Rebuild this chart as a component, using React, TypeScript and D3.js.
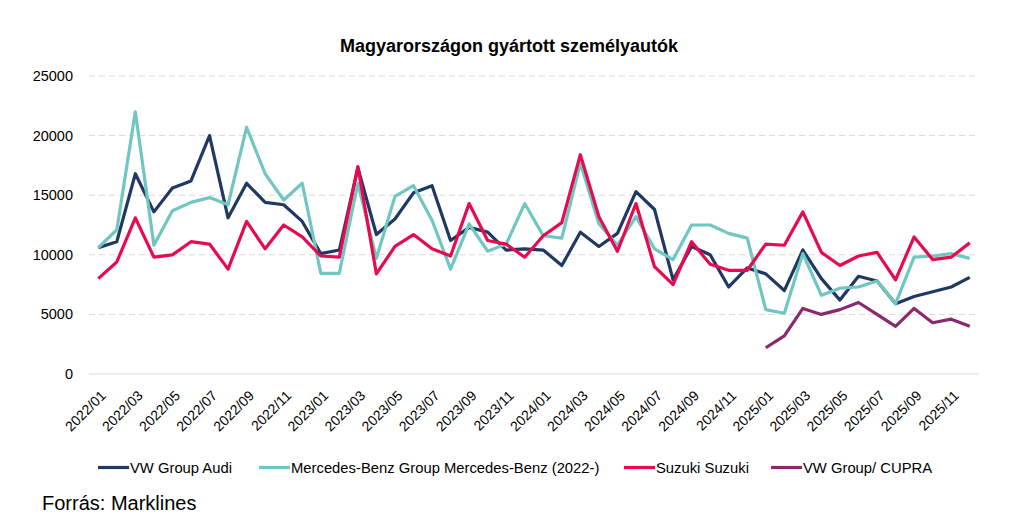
import React from "react";
import * as d3 from "d3";

const months: string[] = [];
for (let y = 2022; y <= 2025; y++) for (let m = 1; m <= 12; m++) months.push(`${y}/${String(m).padStart(2, "0")}`);

const audi = [10600, 11100, 16800, 13600, 15600, 16200, 20000, 13100, 16000, 14400, 14200, 12800,
  10100, 10400, 17300, 11700, 13000, 15200, 15800, 11200, 12300, 11900, 10400, 10500,
  10400, 9100, 11900, 10700, 11800, 15300, 13800, 7900, 10700, 10000, 7300, 8900,
  8400, 7000, 10400, 8000, 6200, 8200, 7800, 5900, 6500, 6900, 7300, 8100];
const mercedes = [10600, 12100, 22000, 10800, 13700, 14400, 14800, 14200, 20700, 16800, 14600, 16000,
  8450, 8450, 16000, 9700, 14900, 15800, 12900, 8800, 12600, 10300, 10900, 14300,
  11600, 11400, 17700, 12600, 10800, 13200, 10500, 9600, 12500, 12500, 11800, 11400,
  5400, 5100, 10100, 6600, 7200, 7300, 7800, 5900, 9800, 9900, 10100, 9700];
const suzuki = [8000, 9400, 13100, 9800, 10000, 11100, 10900, 8800, 12800, 10500, 12500, 11500,
  9900, 9800, 17400, 8400, 10700, 11700, 10500, 9900, 14300, 11200, 10900, 9800,
  11600, 12700, 18400, 13200, 10300, 14300, 9000, 7500, 11100, 9200, 8700, 8700,
  10900, 10800, 13600, 10200, 9100, 9900, 10200, 7900, 11500, 9600, 9800, 11000];
const cupra: (number | null)[] = [...Array(36).fill(null),
  2200, 3200, 5500, 5000, 5400, 6000, 5000, 4000, 5500, 4300, 4600, 4000];

const seriesNames = ["VW Group Audi", "Mercedes-Benz Group Mercedes-Benz (2022-)", "Suzuki Suzuki", "VW Group/ CUPRA"];
const seriesColors = ["#1f3864", "#70c6c0", "#e8094f", "#8a2a6e"];
const seriesData = [audi, mercedes, suzuki, cupra];
const yTicks = [0, 5000, 10000, 15000, 20000, 25000];
const legendX = [98, 259, 624, 771];

const FONT = "'Liberation Sans', Arial, sans-serif";

export default function App() {
  const x = d3.scaleBand<string>().domain(months).range([89, 979]);
  const y = d3.scaleLinear().domain([0, 25000]).range([374, 76]);
  const cx = (m: string) => (x(m) as number) + x.bandwidth() / 2;
  const line = d3.line<number | null>()
    .defined((d) => d != null)
    .x((_, i) => cx(months[i]))
    .y((d) => y(d as number));

  return (
    <svg width={1024} height={516} style={{ position: "absolute", left: 0, top: 0, background: "#fff" }} fontFamily={FONT}>
      <text x={509} y={52} textAnchor="middle" fontSize={18} fontWeight="bold" fill="#000">
        Magyarországon gyártott személyautók
      </text>
      {yTicks.map((t) => (
        <g key={t}>
          {t > 0 && (
            <line x1={89} x2={979} y1={y(t)} y2={y(t)} stroke="#d9d9d9" strokeWidth={1} strokeDasharray="6,4" />
          )}
          <text x={73} y={y(t)} dy="0.35em" textAnchor="end" fontSize={14.5} fill="#000">{t}</text>
        </g>
      ))}
      <line x1={89} x2={979} y1={y(0)} y2={y(0)} stroke="#d9d9d9" strokeWidth={1.2} />
      {months.map((m, i) => i % 2 === 0 ? (
        <text key={m} transform={`translate(${cx(m) + 5},${393}) rotate(-45)`} textAnchor="end" fontSize={14} fill="#000" dy="0.35em">
          {m}
        </text>
      ) : null)}
      {seriesData.map((s, k) => (
        <path key={k} d={line(s) || ""} fill="none" stroke={seriesColors[k]} strokeWidth={3.2} strokeLinejoin="round" />
      ))}
      {seriesNames.map((n, k) => (
        <g key={n}>
          <line x1={legendX[k]} x2={legendX[k] + 31} y1={467.5} y2={467.5} stroke={seriesColors[k]} strokeWidth={3.2} />
          <text x={legendX[k] + 32} y={467.5} dy="0.35em" fontSize={14.8} fill="#000">{n}</text>
        </g>
      ))}
      <text x={42} y={510} fontSize={20} fill="#000">Forrás: Marklines</text>
    </svg>
  );
}
